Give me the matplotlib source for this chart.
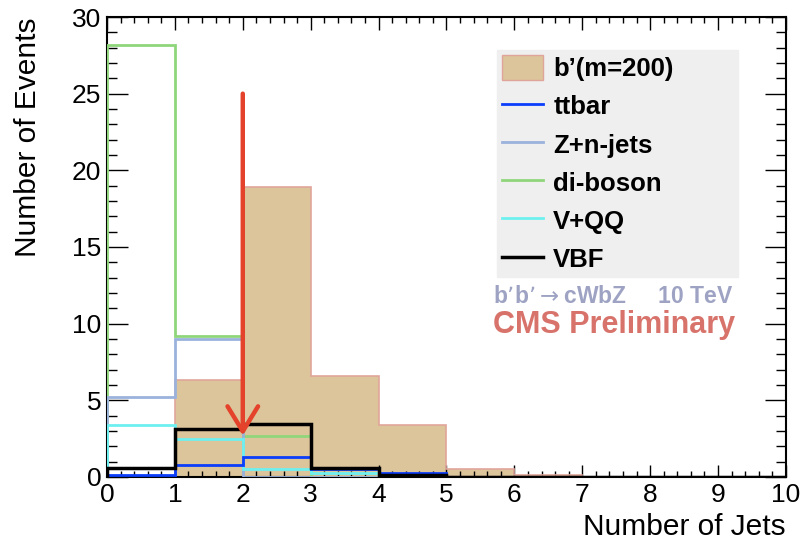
import matplotlib.pyplot as plt
from matplotlib.patches import Patch
from matplotlib.lines import Line2D
from matplotlib.ticker import MultipleLocator

plt.rcParams['font.family'] = ['Liberation Sans', 'DejaVu Sans']

# bin edges: number of jets 0..10
edges = list(range(11))

# event counts per bin
signal = [0.0, 6.3, 18.9, 6.6, 3.4, 0.55, 0.15, 0.0, 0.0, 0.0]
ttbar = [0.1, 0.8, 1.3, 0.5, 0.25, 0.02, 0.0, 0.0, 0.0, 0.0]
zjets = [5.2, 9.0, 0.0, 0.0, 0.0, 0.0, 0.0, 0.0, 0.0, 0.0]
diboson = [28.2, 9.2, 2.7, 0.0, 0.0, 0.0, 0.0, 0.0, 0.0, 0.0]
vqq = [3.4, 2.5, 0.55, 0.25, 0.05, 0.0, 0.0, 0.0, 0.0, 0.0]
vbf = [0.6, 3.1, 3.45, 0.6, 0.1, 0.02, 0.0, 0.0, 0.0, 0.0]

cut_x = 2
arrow_top = 25
arrow_tip = 2.7

fig = plt.figure(figsize=(8.02, 5.45), dpi=100)
ax = fig.add_axes([0.1334, 0.1248, 0.8466, 0.844])

# signal histogram (filled)
ax.stairs(signal, edges, fill=True, color='#dcc59b', zorder=1)
ax.stairs(signal, edges, color='#e0a59a', lw=1.2, zorder=2)

# backgrounds as outlines
lines = [
    (diboson, '#8fd67a', 2.0, 'di-boson'),
    (zjets, '#9bb2dc', 2.0, 'Z+n-jets'),
    (vqq, '#6ef0f0', 2.0, 'V+QQ'),
    (ttbar, '#0b3dfa', 2.0, 'ttbar'),
    (vbf, 'black', 2.5, 'VBF'),
]
for vals, col, lw, name in lines:
    ax.stairs(vals, edges, color=col, lw=lw, baseline=0, zorder=3)

# cut arrow
ax.annotate('', xy=(cut_x, arrow_tip), xytext=(cut_x, arrow_top),
            arrowprops=dict(arrowstyle='->,head_length=1.8,head_width=1.1',
                            color='#e5422b', lw=3.2, shrinkA=0, shrinkB=0),
            zorder=5)

ax.set_xlim(0, 10)
ax.set_ylim(0, 30)
ax.xaxis.set_major_locator(MultipleLocator(1))
ax.xaxis.set_minor_locator(MultipleLocator(0.2))
ax.yaxis.set_major_locator(MultipleLocator(5))
ax.yaxis.set_minor_locator(MultipleLocator(1))
ax.tick_params(which='both', direction='in', top=True, right=True, labelsize=19, width=1)
ax.tick_params(axis='x', which='major', length=9, pad=4)
ax.tick_params(axis='x', which='minor', length=4.5)
ax.tick_params(axis='y', which='major', length=15, pad=4)
ax.tick_params(axis='y', which='minor', length=7.5)
for s in ax.spines.values():
    s.set_linewidth(1.5)

ax.set_xlabel('Number of Jets', fontsize=21.5, loc='right', labelpad=5)
ax.set_ylabel('Number of Events', fontsize=21.5, loc='top', labelpad=22)

handles = [Patch(facecolor='#dcc59b', edgecolor='#e0a59a', label="b\u2019(m=200)")]
for vals, col, lw, name in [lines[3], lines[1], lines[0], lines[2], lines[4]]:
    handles.append(Line2D([], [], color=col, lw=lw, label=name))
leg = ax.legend(handles=handles, loc='upper left',
                bbox_to_anchor=(0.574, 0.459, 0.355, 0.469), mode='expand',
                frameon=True, fancybox=False, facecolor='#efefef', edgecolor='#efefef',
                framealpha=1, prop={'weight': 'bold', 'size': 18.5}, handlelength=1.6,
                handleheight=1.1, handletextpad=0.4,
                labelspacing=0.47, borderpad=0.2, borderaxespad=0)

ax.text(0.568, 0.378, "b\u2019b\u2019$\\rightarrow$cWbZ     10 TeV", transform=ax.transAxes,
        fontsize=16.5, fontweight='bold', color='#9ea3c4')
ax.text(0.568, 0.313, 'CMS Preliminary', transform=ax.transAxes,
        fontsize=22, fontweight='bold', color='#d8736b')

fig.savefig('out.png', dpi=100)
